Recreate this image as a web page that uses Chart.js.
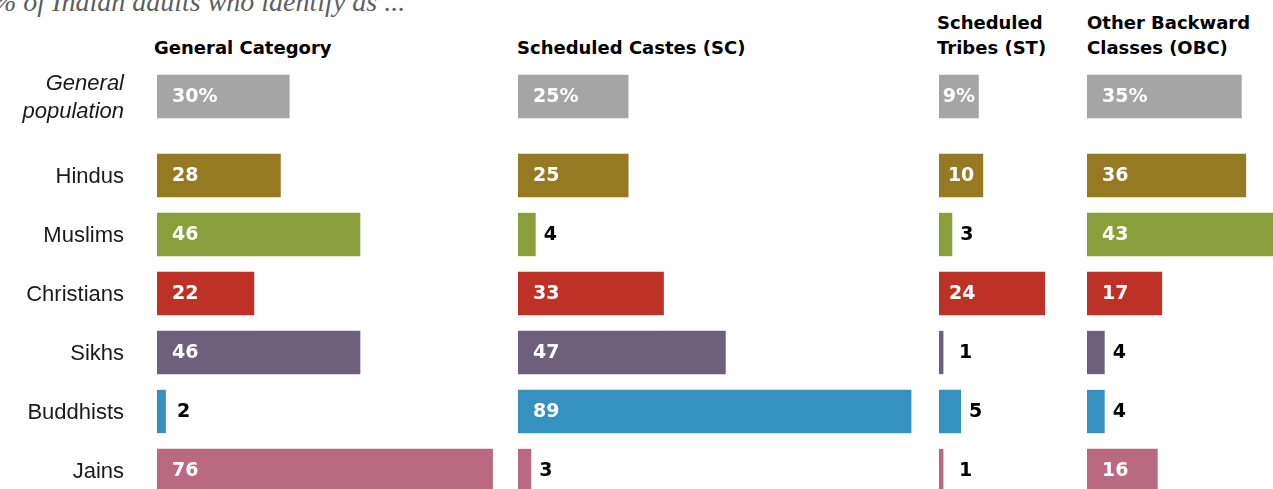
<!DOCTYPE html>
<html>
<head>
<meta charset="utf-8">
<script src="https://cdn.jsdelivr.net/npm/chart.js@4.4.1/dist/chart.umd.min.js"></script>
<style>
  html, body { margin: 0; padding: 0; background: #fff; width: 1273px; height: 489px; overflow: hidden; }
  #wrap { position: relative; width: 1273px; height: 489px; overflow: hidden; }
  .subtitle { position: absolute; left: -7px; top: -12px; font: italic 28px "Liberation Serif", serif; line-height: 28px; color: #5e5e5e; white-space: nowrap; }
  .head { position: absolute; font: bold 18px "DejaVu Sans", sans-serif; line-height: 25px; color: #000; white-space: nowrap; }
  .box { position: absolute; }
  canvas { display: block; }
</style>
</head>
<body>
<div id="wrap">
  <div class="subtitle">% of Indian adults who identify as ...</div>
</div>
<script>
// categorias e valores
const groups = [
  ['General Category'],
  ['Scheduled Castes (SC)'],
  ['Scheduled', 'Tribes (ST)'],
  ['Other Backward', 'Classes (OBC)']
];
const generalPopLabel = ['General', 'population'];
const religions = ['Hindus', 'Muslims', 'Christians', 'Sikhs', 'Buddhists', 'Jains'];

const generalPopulation = [30, 25, 9, 35];
const generalCategory = [28, 46, 22, 46, 2, 76];
const scheduledCastes = [25, 4, 33, 47, 89, 3];
const scheduledTribes = [10, 3, 24, 1, 5, 1];
const otherBackward = [36, 43, 17, 4, 4, 16];

const columnValues = [generalCategory, scheduledCastes, scheduledTribes, otherBackward];

const grey = '#a5a5a5';
const religionColours = ['#957a22', '#8a9e3b', '#be3126', '#6e5f7b', '#3592c0', '#b96a82'];

// layout
const X_MAX = 100;
const PLOT_W = 442;          // 4.42 px por ponto percentual
const AXIS_W = 157;
const ROW_H = 59;
const colLefts = [157, 518, 939, 1087];
const headLefts = [154, 517, 937, 1087];
const insidePad = [15, 15, 10, 15];

const wrap = document.getElementById('wrap');

// cabeçalhos das colunas
groups.forEach((lines, i) => {
  const d = document.createElement('div');
  d.className = 'head';
  d.style.left = headLefts[i] + 'px';
  d.style.top = (35 - 25 * (lines.length - 1)) + 'px';
  d.innerHTML = lines.join('<br>');
  wrap.appendChild(d);
});

// plugin: valores nas barras e, na primeira coluna, os nomes das categorias
function barText(pct, pad, showCats, italic) {
  return {
    id: 'barText',
    afterDatasetsDraw(chart) {
      const ctx = chart.ctx;
      const values = chart.data.datasets[0].data;
      const labels = chart.data.labels;
      const bars = chart.getDatasetMeta(0).data;
      ctx.save();
      ctx.textBaseline = 'middle';

      if (showCats) {
        ctx.font = (italic ? 'italic ' : '') + '22px "Liberation Sans", Arial, sans-serif';
        ctx.fillStyle = '#1a1a1a';
        ctx.textAlign = 'right';
        bars.forEach((bar, i) => {
          const lines = [].concat(labels[i]);
          const lh = 28;
          const y0 = bar.y - (lines.length - 1) * lh / 2;
          lines.forEach((ln, k) => ctx.fillText(ln, chart.chartArea.left - 33, y0 + k * lh + 1));
        });
      }

      ctx.font = 'bold 19px "DejaVu Sans", sans-serif';
      ctx.textAlign = 'left';
      bars.forEach((bar, i) => {
        const v = values[i];
        const txt = pct ? v + '%' : String(v);
        const tw = ctx.measureText(txt).width;
        const w = bar.x - bar.base;
        let x;
        if (v >= 9) {
          ctx.fillStyle = '#fff';
          x = bar.base + pad;
          if (tw + 2 * pad > w) x = bar.base + (w - tw) / 2;
        } else {
          ctx.fillStyle = '#000';
          x = Math.max(bar.x + 8, bar.base + 20);
        }
        ctx.fillText(txt, x, bar.y + 1);
      });
      ctx.restore();
    }
  };
}

function makeChart(col, top, labels, values, colours, pct, italic) {
  const showCats = col === 0;
  const box = document.createElement('div');
  box.className = 'box';
  const left = showCats ? 0 : colLefts[col];
  const width = showCats ? AXIS_W + PLOT_W : PLOT_W;
  const height = ROW_H * labels.length;
  box.style.left = left + 'px';
  box.style.top = top + 'px';
  const canvas = document.createElement('canvas');
  canvas.width = width;
  canvas.height = height;
  canvas.style.width = width + 'px';
  canvas.style.height = height + 'px';
  box.appendChild(canvas);
  wrap.appendChild(box);

  return new Chart(canvas, {
    type: 'bar',
    data: {
      labels: labels,
      datasets: [{
        data: values,
        backgroundColor: colours,
        borderWidth: 0,
        barPercentage: 0.734,
        categoryPercentage: 1
      }]
    },
    options: {
      indexAxis: 'y',
      responsive: false,
      animation: false,
      layout: { padding: { left: showCats ? AXIS_W : 0, right: 0, top: 0, bottom: 0 } },
      plugins: {
        legend: { display: false },
        tooltip: { enabled: false }
      },
      scales: {
        x: { display: false, min: 0, max: X_MAX },
        y: { display: false }
      }
    },
    plugins: [barText(pct, insidePad[col], showCats, italic)]
  });
}

columnValues.forEach((vals, c) => {
  makeChart(c, 67.2, [generalPopLabel], [generalPopulation[c]], [grey], true, true);
  makeChart(c, 145.5, religions, vals, religionColours, false, false);
});
</script>
</body>
</html>
